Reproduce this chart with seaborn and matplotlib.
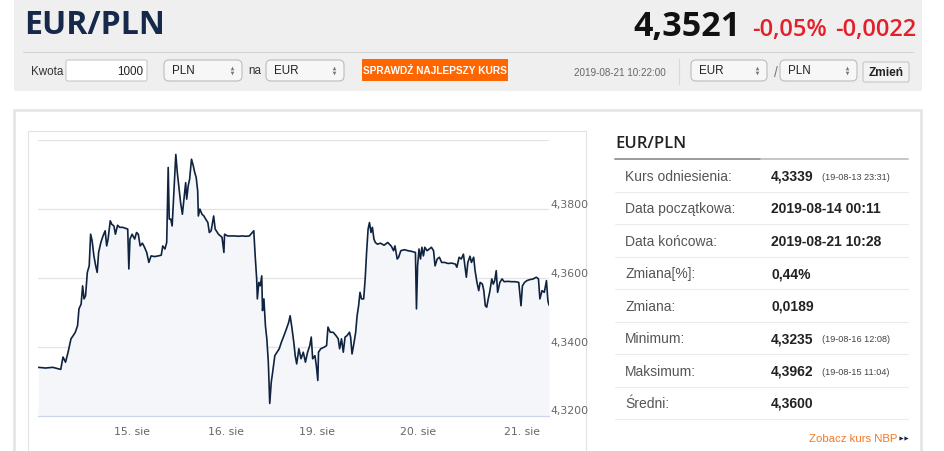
import numpy as np
import pandas as pd
import seaborn as sns
import matplotlib.pyplot as plt
from matplotlib.patches import Rectangle, FancyBboxPatch

# EUR/PLN quotes 14-21 Aug 2019, ordinal axis (1 unit ~ one trading session)
pos = [0.000, 0.078, 0.155, 0.240, 0.264, 0.291, 0.318, 0.349, 0.372, 0.395,
       0.419, 0.434, 0.457, 0.473, 0.488, 0.504, 0.523, 0.543, 0.558, 0.574,
       0.593, 0.612, 0.628, 0.643, 0.667, 0.690, 0.713, 0.729, 0.744, 0.767,
       0.783, 0.806, 0.822, 0.845, 0.868, 0.899, 0.930, 0.953, 0.965, 0.977,
       1.000, 1.027, 1.047, 1.066, 1.085, 1.109, 1.132, 1.155, 1.178, 1.202,
       1.240, 1.279, 1.310, 1.326, 1.349, 1.368, 1.384, 1.395, 1.411, 1.426,
       1.442, 1.465, 1.481, 1.496, 1.516, 1.535, 1.550, 1.570, 1.581, 1.597,
       1.612, 1.632, 1.651, 1.667, 1.682, 1.698, 1.705, 1.721, 1.744, 1.764,
       1.783, 1.806, 1.822, 1.841, 1.868, 1.884, 1.919, 1.957, 1.977, 1.984,
       2.016, 2.054, 2.093, 2.132, 2.171, 2.209, 2.248, 2.279, 2.295, 2.310,
       2.326, 2.333, 2.349, 2.364, 2.380, 2.388, 2.403, 2.419, 2.434, 2.450,
       2.465, 2.481, 2.496, 2.519, 2.543, 2.566, 2.589, 2.616, 2.643, 2.667,
       2.682, 2.698, 2.721, 2.736, 2.752, 2.775, 2.798, 2.822, 2.845, 2.868,
       2.891, 2.907, 2.922, 2.946, 2.961, 2.977, 2.984, 3.008, 3.047, 3.070,
       3.085, 3.109, 3.140, 3.171, 3.194, 3.209, 3.229, 3.248, 3.267, 3.287,
       3.314, 3.326, 3.341, 3.357, 3.380, 3.395, 3.411, 3.426, 3.442, 3.465,
       3.481, 3.496, 3.512, 3.527, 3.543, 3.558, 3.574, 3.589, 3.612, 3.643,
       3.682, 3.721, 3.760, 3.783, 3.798, 3.822, 3.837, 3.860, 3.899, 3.938,
       3.977, 4.016, 4.027, 4.039, 4.054, 4.070, 4.085, 4.101, 4.116, 4.140,
       4.163, 4.186, 4.209, 4.225, 4.248, 4.271, 4.295, 4.326, 4.364, 4.403,
       4.442, 4.457, 4.481, 4.504, 4.527, 4.543, 4.558, 4.574, 4.597, 4.612,
       4.636, 4.651, 4.671, 4.690, 4.705, 4.729, 4.744, 4.760, 4.775, 4.791,
       4.806, 4.829, 4.845, 4.860, 4.876, 4.891, 4.915, 4.938, 4.961, 5.000,
       5.039, 5.078, 5.116, 5.140, 5.155, 5.178, 5.202, 5.233, 5.271, 5.302,
       5.326, 5.341, 5.364, 5.388, 5.411, 5.426, 5.438]

rate = [4.3340, 4.3338, 4.3340, 4.3334, 4.3370, 4.3355, 4.3384, 4.3423, 4.3432, 4.3442,
        4.3461, 4.3510, 4.3524, 4.3577, 4.3539, 4.3548, 4.3616, 4.3635, 4.3727, 4.3708,
        4.3664, 4.3635, 4.3616, 4.3674, 4.3703, 4.3722, 4.3737, 4.3693, 4.3713, 4.3766,
        4.3756, 4.3751, 4.3727, 4.3753, 4.3747, 4.3747, 4.3744, 4.3742, 4.3626, 4.3713,
        4.3727, 4.3713, 4.3732, 4.3727, 4.3693, 4.3701, 4.3689, 4.3674, 4.3645, 4.3664,
        4.3662, 4.3664, 4.3666, 4.3693, 4.3684, 4.3703, 4.3921, 4.3771, 4.3771, 4.3751,
        4.3839, 4.3959, 4.3906, 4.3868, 4.3819, 4.3785, 4.3824, 4.3877, 4.3829, 4.3868,
        4.3887, 4.3945, 4.3926, 4.3906, 4.3892, 4.3853, 4.3780, 4.3800, 4.3785, 4.3780,
        4.3771, 4.3761, 4.3732, 4.3737, 4.3780, 4.3742, 4.3727, 4.3718, 4.3674, 4.3727,
        4.3722, 4.3722, 4.3722, 4.3721, 4.3722, 4.3721, 4.3722, 4.3732, 4.3737, 4.3664,
        4.3597, 4.3539, 4.3587, 4.3577, 4.3606, 4.3505, 4.3539, 4.3461, 4.3423, 4.3355,
        4.3235, 4.3297, 4.3326, 4.3374, 4.3384, 4.3394, 4.3413, 4.3432, 4.3452, 4.3471,
        4.3490, 4.3461, 4.3413, 4.3374, 4.3350, 4.3394, 4.3365, 4.3384, 4.3355, 4.3384,
        4.3403, 4.3428, 4.3365, 4.3374, 4.3345, 4.3302, 4.3384, 4.3394, 4.3399, 4.3403,
        4.3457, 4.3442, 4.3442, 4.3432, 4.3423, 4.3394, 4.3423, 4.3384, 4.3428, 4.3432,
        4.3442, 4.3428, 4.3379, 4.3403, 4.3442, 4.3490, 4.3519, 4.3558, 4.3539, 4.3539,
        4.3597, 4.3674, 4.3742, 4.3761, 4.3732, 4.3747, 4.3713, 4.3703, 4.3698, 4.3701,
        4.3695, 4.3703, 4.3692, 4.3679, 4.3693, 4.3655, 4.3660, 4.3679, 4.3682, 4.3679,
        4.3677, 4.3674, 4.3510, 4.3635, 4.3684, 4.3655, 4.3689, 4.3664, 4.3689, 4.3679,
        4.3684, 4.3689, 4.3679, 4.3635, 4.3655, 4.3660, 4.3645, 4.3645, 4.3642, 4.3643,
        4.3640, 4.3631, 4.3660, 4.3655, 4.3669, 4.3635, 4.3602, 4.3645, 4.3663, 4.3645,
        4.3660, 4.3621, 4.3587, 4.3563, 4.3587, 4.3582, 4.3563, 4.3519, 4.3515, 4.3539,
        4.3558, 4.3597, 4.3582, 4.3592, 4.3621, 4.3558, 4.3587, 4.3597, 4.3589, 4.3590,
        4.3589, 4.3589, 4.3587, 4.3519, 4.3577, 4.3587, 4.3592, 4.3595, 4.3597, 4.3602,
        4.3597, 4.3539, 4.3563, 4.3558, 4.3592, 4.3534, 4.3521]

day_ticks = [1.0, 2.0, 2.965, 4.039, 5.155]
day_labels = ["15. sie", "16. sie", "19. sie", "20. sie", "21. sie"]
y_ticks = [4.32, 4.34, 4.36, 4.38, 4.40]
y_labels = ["4,3200", "4,3400", "4,3600", "4,3800", ""]

stat_labels = ["Kurs odniesienia:", "Data początkowa:", "Data końcowa:", "Zmiana[%]:",
               "Zmiana:", "Minimum:", "Maksimum:", "Średni:"]
stat_values = ["4,3339", "2019-08-14 00:11", "2019-08-21 10:28", "0,44%",
               "0,0189", "4,3235", "4,3962", "4,3600"]
stat_notes = ["(19-08-13 23:31)", "", "", "", "", "(19-08-16 12:08)", "(19-08-15 11:04)", ""]

df = pd.DataFrame({"pos": pos, "rate": rate})

sns.set_style("white")
plt.rcParams['font.family'] = ['Liberation Sans', 'DejaVu Sans']

NAVY = '#0f2341'
ORANGE = '#ff6600'
RED = '#e3202a'

fig = plt.figure(figsize=(9.45, 4.52), dpi=100)

# page layer in pixel units
page = fig.add_axes([0, 0, 1, 1])
page.set_xlim(0, 945)
page.set_ylim(452, 0)
page.axis('off')

# header band
page.add_patch(Rectangle((14, 0), 908, 92, fc='#efefef', ec='none'))
page.text(24, 26, "EUR/PLN", fontsize=23, family='Open Sans', weight='bold',
          color='#16294a', va='center')
page.text(633, 36, "4,3521", fontsize=24.5, family='Open Sans', weight='bold',
          color='#111111', va='baseline')
page.text(752, 36, "-0,05%", fontsize=17, family='Open Sans', weight='semibold',
          color=RED, va='baseline')
page.text(835, 36, "-0,0022", fontsize=17, family='Open Sans', weight='semibold',
          color=RED, va='baseline')
page.plot([23, 913], [52.5, 52.5], color='#d3d3d3', lw=0.8)

# form row
page.text(31, 72, "Kwota", fontsize=8.4, color='#333333', va='center')
page.add_patch(FancyBboxPatch((66, 61), 81, 21, boxstyle="round,pad=0,rounding_size=2",
                              fc='white', ec='#c9c9c9', lw=0.8))
page.text(143, 72, "1000", fontsize=8.4, color='#222222', va='center', ha='right')


def select_box(x0, x1, label):
    page.add_patch(FancyBboxPatch((x0, 61), x1 - x0, 21,
                                  boxstyle="round,pad=0,rounding_size=5",
                                  fc='#f7f7f7', ec='#bcbcbc', lw=0.8))
    page.text(x0 + 8, 71.5, label, fontsize=8.4, color='#222222', va='center')
    page.plot([x1 - 10], [69.3], marker='^', ms=2.6, color='#777777', mec='none')
    page.plot([x1 - 10], [74.2], marker='v', ms=2.6, color='#777777', mec='none')


select_box(164, 242, "PLN")
page.text(248, 71.5, "na", fontsize=8.4, color='#333333', va='center')
select_box(266, 344, "EUR")

page.add_patch(Rectangle((362, 60), 146, 22, fc=ORANGE, ec='none'))
page.text(435, 71.5, "SPRAWDŹ NAJLEPSZY KURS", fontsize=7.3, weight='bold',
          color='white', va='center', ha='center',
          family=['Liberation Sans Narrow', 'Liberation Sans'])

page.text(574, 73, "2019-08-21 10:22:00", fontsize=7.1, color='#666666', va='center')
page.plot([679, 679], [60, 85], color='#d8d8d8', lw=0.8)
select_box(691, 767, "EUR")
page.text(773.5, 73, "/", fontsize=10, color='#777777', va='center')
select_box(780, 857, "PLN")
page.add_patch(FancyBboxPatch((863, 63), 46, 20, boxstyle="round,pad=0,rounding_size=2",
                              fc='#f3f3f3', ec='#c6c6c6', lw=0.8))
page.text(886, 73, "Zmień", fontsize=8.6, weight='bold', color='#222222',
          va='center', ha='center')

# main panel and chart box
page.add_patch(Rectangle((14, 110.5), 907, 360, fc='white', ec='#e6e6e6', lw=2))
page.add_patch(Rectangle((28.3, 132.3), 558, 340, fc='white', ec='#e2e2e2', lw=0.8))

# statistics table
page.text(615.5, 144, "EUR/PLN", fontsize=12, family='Open Sans', weight='semibold',
          color='#222222', va='center')
page.plot([615, 761], [160, 160], color='#9b9b9b', lw=1.4)
page.plot([761, 908], [160, 160], color='#c6c6c6', lw=1.4)
for i, (lab, val, note) in enumerate(zip(stat_labels, stat_values, stat_notes)):
    yc = 176.7 + i * 32.47
    page.text(625, yc, lab, fontsize=10, color='#555555', va='center')
    page.text(771, yc, val, fontsize=10, weight='bold', color='#222222', va='center')
    if note:
        page.text(822, yc + 0.8, note, fontsize=6.6, color='#444444', va='center')
    page.plot([615, 908], [yc + 16.3, yc + 16.3], color='#ececec', lw=0.8)

page.text(809, 439, "Zobacz kurs NBP", fontsize=8.2, color='#f47a22', va='center')
page.plot([900.5], [439], marker='>', ms=3, color=NAVY, mec='none')
page.plot([905.5], [439], marker='>', ms=3, color=NAVY, mec='none')

# price chart
ax = fig.add_axes([38.2 / 945, 1 - 416.5 / 452, 510.8 / 945, 275.2 / 452])
ax.set_facecolor('none')
ax.fill_between(df["pos"], df["rate"], 4.32, color='#f4f6f9', lw=0)
sns.lineplot(data=df, x="pos", y="rate", ax=ax, color=NAVY, lw=1.2, estimator=None)
ax.set_xlim(0, 5.438)
ax.set_ylim(4.32, 4.40)
ax.set_xlabel("")
ax.set_ylabel("")

ax.yaxis.tick_right()
ax.set_yticks(y_ticks)
ax.set_yticklabels(y_labels, family='DejaVu Sans')
for lab in ax.get_yticklabels():
    lab.set_va('bottom')
ax.tick_params(axis='y', length=0, pad=1.2, labelsize=7.8, labelcolor='#666666')
ax.grid(axis='y', color='#e3e3e3', lw=0.9)

ax.set_xticks(day_ticks)
ax.set_xticklabels(day_labels, family='DejaVu Sans')
ax.tick_params(axis='x', length=5.8, width=0.8, color='#ccd6eb', pad=1.5,
               labelsize=7.8, labelcolor='#666666')
for side in ['left', 'right', 'top']:
    ax.spines[side].set_visible(False)
ax.spines['bottom'].set_color('#ccd6eb')
ax.spines['bottom'].set_linewidth(0.9)

fig.savefig('out.png', dpi=100)
